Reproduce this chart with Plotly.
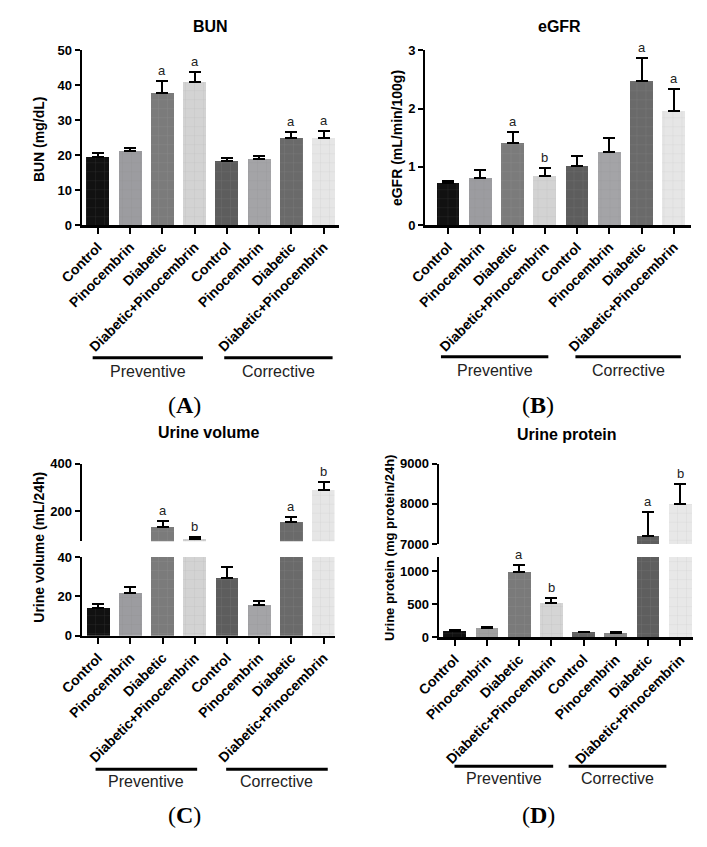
import plotly.graph_objects as go

# ---------------- data ----------------
groups = ["Control", "Pinocembrin", "Diabetic", "Diabetic+Pinocembrin",
          "Control", "Pinocembrin", "Diabetic", "Diabetic+Pinocembrin"]
phases = ["Preventive", "Corrective"]

bun_mean = [19.6, 21.2, 37.9, 40.9, 18.4, 19.0, 25.0, 24.9]
bun_sem = [1.0, 0.9, 3.3, 3.0, 0.8, 0.8, 1.5, 1.9]
bun_sig = ["", "", "a", "a", "", "", "a", "a"]

egfr_mean = [0.72, 0.81, 1.40, 0.85, 1.02, 1.26, 2.48, 1.95]
egfr_sem = [0.04, 0.13, 0.19, 0.13, 0.16, 0.24, 0.38, 0.39]
egfr_sig = ["", "", "a", "b", "", "", "a", "a"]

volume_mean = [14.2, 21.8, 132, 84, 29.3, 15.8, 156, 291]
volume_sem = [2.1, 3.2, 27, 7, 5.4, 1.7, 20, 34]
volume_sig = ["", "", "a", "b", "", "", "a", "b"]

protein_mean = [98, 138, 990, 515, 80, 64, 7190, 8000]
protein_sem = [8, 25, 105, 73, 5, 14, 610, 490]
protein_sig = ["", "", "a", "b", "", "", "a", "b"]

bar_colors = ["#111111", "#9c9ca0", "#7b7b7b", "#d3d3d3",
              "#5d5d5d", "#a4a4a7", "#6a6a6a", "#e6e6e6"]
protein_colors = ["#111111", "#a0a0a0", "#7a7a7a", "#d5d5d5",
                  "#606060", "#8a8a8a", "#5e5e5e", "#e8e8e8"]

# ---------------- layout helpers ----------------
W, H = 707, 847
SANS = "Liberation Sans, Arial, sans-serif"
SERIF = "Liberation Serif, Times New Roman, serif"


def px(x):
    return x / W


def py(y):
    return 1 - y / H


xpos = list(range(len(groups)))

panels = [
    dict(name="A", title="BUN", ytitle="BUN (mg/dL)", mean=bun_mean, sem=bun_sem, sig=bun_sig,
         colors=bar_colors, xdom=(61, 327), xr=[-0.49, 7.49], ytfs=14,
         segs=[dict(ydom=(44, 222), r=[0, 50], tv=[0, 10, 20, 30, 40, 50])],
         title_xy=(194, 20), ytitle_xy=(16, 134), lines=[(72, 186), (208, 320)], line_y=357,
         text_y=371, letter_xy=(167, 405)),
    dict(name="B", title="eGFR", ytitle="eGFR (mL/min/100g)", mean=egfr_mean, sem=egfr_sem, sig=egfr_sig,
         colors=bar_colors, xdom=(416, 690), xr=[-0.70, 7.52], ytfs=14,
         segs=[dict(ydom=(44, 222), r=[0, 3], tv=[0, 1, 2, 3])],
         title_xy=(555, 20), ytitle_xy=(386, 133), lines=[(432, 543), (571, 680)], line_y=356,
         text_y=370, letter_xy=(532, 405)),
    dict(name="C", title="Urine volume", ytitle="Urine volume (mL/24h)", mean=volume_mean, sem=volume_sem,
         sig=volume_sig, colors=bar_colors, xdom=(61, 322), xr=[-0.50, 7.34], ytfs=14,
         segs=[dict(ydom=(560, 640), r=[0, 40], tv=[0, 20, 40]),
               dict(ydom=(465, 544), r=[73, 400], tv=[200, 400])],
         title_xy=(192, 433), ytitle_xy=(17, 550), lines=[(75, 180), (210, 315)], line_y=776,
         text_y=788, letter_xy=(167, 823)),
    dict(name="D", title="Urine protein", ytitle="Urine protein (mg protein/24h)", mean=protein_mean,
         sem=protein_sem, sig=protein_sig, colors=protein_colors, xdom=(430, 693), xr=[-0.49, 7.41], ytfs=13,
         segs=[dict(ydom=(560, 641.7), r=[0, 1210], tv=[0, 500, 1000]),
               dict(ydom=(465, 546.7), r=[7000, 9000], tv=[7000, 8000, 9000])],
         title_xy=(562, 435), ytitle_xy=(379, 551), lines=[(446, 548), (564, 665)], line_y=773,
         text_y=785, letter_xy=(533, 823)),
]

fig = go.Figure()
layout = {}
annotations = []
shapes = []

xi = 0
yi = 0
for p in panels:
    xi += 1
    xname = "xaxis" if xi == 1 else f"xaxis{xi}"
    xref = "x" if xi == 1 else f"x{xi}"
    first_y = yi + 1
    layout[xname] = dict(
        domain=[px(p["xdom"][0]), px(p["xdom"][1])], range=p["xr"],
        anchor="y" if first_y == 1 else f"y{first_y}",
        tickmode="array", tickvals=xpos, ticktext=groups, tickangle=-45,
        ticks="outside", ticklen=6, tickwidth=2, tickcolor="black",
        showline=True, linewidth=2.5, linecolor="black",
        showgrid=False, zeroline=False,
        tickfont=dict(family=SANS, size=14, color="black", weight="bold"),
    )
    seg_refs = []
    for s in p["segs"]:
        yi += 1
        yname = "yaxis" if yi == 1 else f"yaxis{yi}"
        yref = "y" if yi == 1 else f"y{yi}"
        seg_refs.append((yref, s))
        layout[yname] = dict(
            domain=[py(s["ydom"][1]), py(s["ydom"][0])], range=s["r"], anchor=xref,
            tickmode="array", tickvals=s["tv"],
            ticks="outside", ticklen=5, tickwidth=2, tickcolor="black",
            showline=True, linewidth=2.5, linecolor="black",
            showgrid=False, zeroline=False,
            tickfont=dict(family=SANS, size=13, color="black", weight="bold"),
        )
        fig.add_trace(go.Bar(
            x=xpos, y=p["mean"], xaxis=xref, yaxis=yref, width=0.71,
            marker=dict(color=p["colors"], line=dict(width=0),
                        pattern=dict(shape="+", fillmode="overlay", fgcolor="white",
                                     fgopacity=0.13, size=9, solidity=0.08)),
            error_y=dict(type="data", symmetric=False, array=p["sem"],
                         arrayminus=[0] * len(p["sem"]), thickness=2, width=6, color="black"),
            showlegend=False, hoverinfo="skip",
        ))
    # significance letters
    for i, (m, e, lab) in enumerate(zip(p["mean"], p["sem"], p["sig"])):
        if not lab:
            continue
        top = m + e
        target = seg_refs[0][0]
        for yref, s in seg_refs:
            if s["r"][0] <= top <= s["r"][1]:
                target = yref
        annotations.append(dict(x=xpos[i], y=top, xref=xref, yref=target, text=lab,
                                showarrow=False, yanchor="bottom", yshift=1,
                                font=dict(family=SANS, size=13, color="#222222")))
    # titles
    annotations.append(dict(x=px(p["title_xy"][0]), y=py(p["title_xy"][1]), xref="paper", yref="paper",
                            text=f"<b>{p['title']}</b>", showarrow=False, xanchor="center", yanchor="middle",
                            font=dict(family=SANS, size=16, color="black")))
    annotations.append(dict(x=px(p["ytitle_xy"][0]), y=py(p["ytitle_xy"][1]), xref="paper", yref="paper",
                            text=f"<b>{p['ytitle']}</b>", showarrow=False, textangle=-90,
                            xanchor="center", yanchor="middle",
                            font=dict(family=SANS, size=p["ytfs"], color="black")))
    for (x0, x1), ph in zip(p["lines"], phases):
        shapes.append(dict(type="line", xref="paper", yref="paper", x0=px(x0), x1=px(x1),
                           y0=py(p["line_y"]), y1=py(p["line_y"]), line=dict(color="black", width=3)))
        annotations.append(dict(x=px((x0 + x1) / 2), y=py(p["text_y"]), xref="paper", yref="paper",
                                text=ph, showarrow=False, xanchor="center", yanchor="middle",
                                font=dict(family=SANS, size=16, color="#222222")))
    annotations.append(dict(x=px(p["letter_xy"][0]), y=py(p["letter_xy"][1]), xref="paper", yref="paper",
                            text=f"(<b>{p['name']}</b>)", showarrow=False, xanchor="center", yanchor="middle",
                            font=dict(family=SERIF, size=24, color="black")))

fig.update_layout(
    width=W, height=H, autosize=False,
    margin=dict(l=0, r=0, t=0, b=0),
    paper_bgcolor="white", plot_bgcolor="white",
    bargap=0, annotations=annotations, shapes=shapes,
    **layout,
)

fig.write_html("out.html",
               config={"displayModeBar": False, "staticPlot": True},
               post_script="document.body.style.margin='0';document.body.style.overflow='hidden';")
